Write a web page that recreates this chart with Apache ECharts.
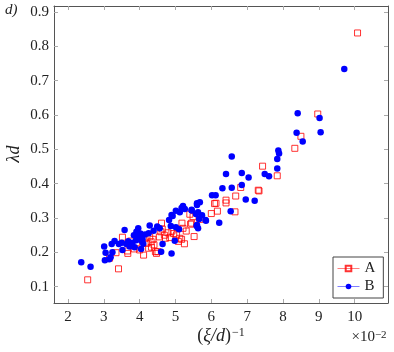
<!DOCTYPE html>
<html>
<head>
<meta charset="utf-8">
<title></title>
<style type="text/css">
  html, body { margin:0; padding:0; background:#fff; }
  #main { width:394px; height:352px; }
</style>
<script src="https://cdn.jsdelivr.net/npm/echarts@6/dist/echarts.min.js"></script>
</head>
<body>
<div id="main"></div>
<script type="text/javascript">
// tick values of both axes
var xTicks = [2, 3, 4, 5, 6, 7, 8, 9, 10];
var yTicks = [0.1, 0.2, 0.3, 0.4, 0.5, 0.6, 0.7, 0.8, 0.9];

// series A (red squares), [x, y]
var seriesA = [
  [10.08,0.839],[8.97,0.603],[8.50,0.538],[8.33,0.503],[7.43,0.451],[7.84,0.423],
  [6.82,0.389],[7.31,0.381],[7.33,0.379],[6.68,0.364],[6.09,0.342],[6.13,0.343],
  [6.41,0.352],[6.41,0.344],[6.17,0.320],[6.00,0.313],[6.66,0.318],[5.68,0.296],
  [5.49,0.304],[5.45,0.285],[5.52,0.246],[2.55,0.120],[3.41,0.152],[3.16,0.183],
  [3.34,0.199],[3.52,0.244],[3.66,0.204],[3.67,0.197],[3.75,0.233],[3.91,0.228],
  [4.00,0.207],[4.11,0.192],[4.19,0.226],[4.32,0.231],[4.37,0.238],[4.33,0.215],
  [4.44,0.202],[4.47,0.197],[4.59,0.260],[4.61,0.285],[4.69,0.250],[4.72,0.241],
  [4.79,0.257],[4.84,0.243],[5.03,0.251],[5.12,0.241],[5.18,0.285],[5.21,0.270],
  [5.17,0.238],[5.40,0.311],[5.42,0.282],[4.51,0.202],[4.40,0.222],[4.25,0.212],
  [4.55,0.245],[4.90,0.262],[5.08,0.232],[4.95,0.255],[3.85,0.210],[4.28,0.245],
  [5.30,0.262],[4.15,0.240],[4.63,0.268],[5.25,0.225]
];

// series B (blue dots), [x, y]
var seriesB = [
  [9.71,0.734],[8.41,0.605],[9.02,0.591],[8.38,0.548],[9.05,0.550],[8.55,0.523],
  [7.87,0.497],[7.89,0.488],[7.84,0.472],[6.57,0.479],[7.84,0.444],[6.41,0.428],
  [6.85,0.431],[7.04,0.418],[7.49,0.428],[7.61,0.422],[6.31,0.387],[6.57,0.388],
  [6.85,0.396],[6.96,0.354],[7.21,0.350],[6.02,0.366],[6.12,0.366],[6.54,0.320],
  [6.22,0.286],[5.68,0.346],[5.60,0.338],[5.45,0.322],[5.63,0.317],[5.74,0.308],
  [5.84,0.294],[5.60,0.280],[5.63,0.270],[5.57,0.312],[2.37,0.171],[2.63,0.158],
  [3.01,0.217],[3.05,0.199],[3.03,0.177],[3.15,0.180],[3.19,0.186],[3.24,0.200],
  [3.22,0.224],[3.30,0.233],[3.42,0.224],[3.58,0.265],[3.52,0.207],[3.50,0.228],
  [3.63,0.224],[3.72,0.217],[3.84,0.250],[3.91,0.260],[3.96,0.270],[3.86,0.215],
  [4.00,0.246],[4.05,0.234],[4.08,0.238],[4.04,0.210],[4.25,0.256],[4.28,0.278],
  [4.39,0.263],[4.49,0.275],[4.56,0.270],[4.60,0.202],[4.64,0.224],[4.82,0.294],
  [4.92,0.306],[4.87,0.277],[4.89,0.197],[4.98,0.234],[5.01,0.273],[5.10,0.267],
  [5.12,0.317],[5.17,0.329],[5.21,0.335],[5.45,0.324],[5.60,0.343],[5.59,0.277],
  [5.26,0.326],[5.01,0.321],[4.89,0.309],[3.95,0.240],[4.02,0.255],[3.90,0.235],
  [3.80,0.228],[4.10,0.225],[4.15,0.252],[3.68,0.232],[5.66,0.297],[5.85,0.292]
];

var FONT = '"Liberation Serif", "DejaVu Serif", serif';
var chart = echarts.init(document.getElementById('main'));

function xAx(pos, labels) {
  return {
    type: 'value', position: pos, min: 1.61, max: 10.93,
    axisLine: { show: true, lineStyle: { color: '#555', width: 1 } },
    axisTick: { show: true, inside: true, length: 4, customValues: xTicks, lineStyle: { color: '#aaa' } },
    axisLabel: { show: labels, customValues: xTicks, margin: 7, color: '#222', fontFamily: FONT, fontSize: 15 },
    splitLine: { show: false }
  };
}
function yAx(pos, labels) {
  return {
    type: 'value', position: pos, min: 0.0525, max: 0.9175,
    axisLine: { show: true, lineStyle: { color: '#555', width: 1 } },
    axisTick: { show: true, inside: true, length: 4, customValues: yTicks, lineStyle: { color: '#aaa' } },
    axisLabel: { show: labels, customValues: yTicks, margin: 5, color: '#222', fontFamily: FONT, fontSize: 15,
      formatter: function (v) { return v.toFixed(1); } },
    splitLine: { show: false }
  };
}

var option = {
  animation: false,
  grid: { left: 54, top: 6, width: 334, height: 297 },
  xAxis: [xAx('bottom', true), xAx('top', false)],
  yAxis: [yAx('left', true), yAx('right', false)],
  legend: {
    left: 333, top: 257, orient: 'vertical',
    backgroundColor: '#fff', borderColor: '#444', borderWidth: 1,
    padding: [4, 8, 4, 4], itemWidth: 22, itemHeight: 7, itemGap: 3,
    textStyle: { fontFamily: FONT, fontSize: 15, color: '#222', lineHeight: 13 },
    data: [
      { name: 'A', lineStyle: { color: 'rgba(255,0,0,0.5)', width: 1, opacity: 1 } },
      { name: 'B', lineStyle: { color: 'rgba(0,0,255,0.5)', width: 1, opacity: 1 } }
    ]
  },
  series: [
    {
      name: 'A', type: 'line', data: seriesA, color: '#ff0000',
      symbol: 'rect', symbolSize: 6, showSymbol: true,
      lineStyle: { opacity: 0 },
      itemStyle: { color: 'rgba(255,255,255,0)', borderColor: 'rgba(255,0,0,0.8)', borderWidth: 1 },
      emphasis: { disabled: true }
    },
    {
      name: 'B', type: 'line', data: seriesB, color: '#0000ff',
      symbol: 'circle', symbolSize: 6.5, showSymbol: true,
      lineStyle: { opacity: 0 },
      itemStyle: { color: '#0000ff', borderWidth: 0 },
      emphasis: { disabled: true }
    }
  ],
  graphic: [
    { type: 'text', left: 5, top: 3,
      style: { text: 'd)', font: 'italic 15px ' + FONT, fill: '#222' } },
    { type: 'text', x: 14, y: 154, rotation: Math.PI / 2,
      style: { text: 'λd', font: 'italic 18px ' + FONT, fill: '#222', align: 'center', verticalAlign: 'middle' } },
    { type: 'text', x: 221, y: 336,
      style: {
        text: '{p|(}{i|ξ/d}{p|)}{s|−1}', align: 'center', verticalAlign: 'middle', fill: '#222',
        rich: {
          p: { fontFamily: FONT, fontSize: 18 },
          i: { fontFamily: FONT, fontSize: 18, fontStyle: 'italic' },
          s: { fontFamily: FONT, fontSize: 12, verticalAlign: 'top', padding: [0, 0, 0, 1] }
        }
      } },
    { type: 'text', x: 369, y: 337,
      style: {
        text: '{p|×10}{s|−2}', align: 'center', verticalAlign: 'middle', fill: '#222',
        rich: {
          p: { fontFamily: FONT, fontSize: 15 },
          s: { fontFamily: FONT, fontSize: 11, verticalAlign: 'top' }
        }
      } }
  ]
};
chart.setOption(option);
</script>
</body>
</html>
